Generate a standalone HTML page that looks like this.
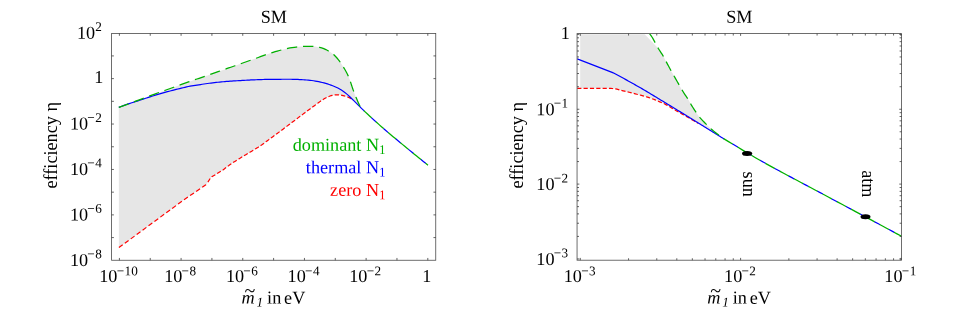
<!DOCTYPE html>
<html><head><meta charset="utf-8"><title>SM efficiency</title>
<style>html,body{margin:0;padding:0;background:#fff}body{width:954px;height:318px;overflow:hidden}</style></head>
<body>
<svg width="954" height="318" viewBox="0 0 954 318" style="display:block;will-change:transform;font-family:'Liberation Serif',serif;font-size:18.2px">
<rect width="954" height="318" fill="#fff"/>
<path d="M118.80,107.40 L120.91,106.63 L123.03,105.85 L125.14,105.08 L127.25,104.30 L129.37,103.52 L131.48,102.74 L133.59,101.96 L135.71,101.18 L137.82,100.39 L139.93,99.60 L142.04,98.81 L144.16,98.01 L146.27,97.21 L148.38,96.41 L150.50,95.61 L152.61,94.82 L154.72,94.05 L156.84,93.28 L158.95,92.53 L161.06,91.78 L163.18,91.03 L165.29,90.28 L167.40,89.53 L169.52,88.78 L171.63,88.01 L173.74,87.23 L175.85,86.44 L177.97,85.65 L180.08,84.87 L182.19,84.09 L184.31,83.33 L186.42,82.58 L188.53,81.85 L190.65,81.14 L192.76,80.43 L194.87,79.73 L196.99,79.02 L199.10,78.31 L201.21,77.58 L203.33,76.85 L205.44,76.12 L207.55,75.39 L209.66,74.65 L211.78,73.91 L213.89,73.17 L216.00,72.43 L218.12,71.69 L220.23,70.94 L222.34,70.20 L224.46,69.45 L226.57,68.71 L228.68,67.96 L230.80,67.22 L232.91,66.48 L235.02,65.73 L237.14,64.99 L239.25,64.25 L241.36,63.50 L243.47,62.76 L245.59,62.01 L247.70,61.26 L249.81,60.51 L251.93,59.76 L254.04,59.01 L256.15,58.25 L258.27,57.48 L260.38,56.70 L262.49,55.91 L264.61,55.14 L266.72,54.40 L268.83,53.70 L270.95,53.01 L273.06,52.34 L275.17,51.70 L277.28,51.09 L279.40,50.51 L281.51,49.96 L283.62,49.41 L285.74,48.88 L287.85,48.38 L289.96,47.95 L292.08,47.59 L294.19,47.30 L296.30,47.02 L298.42,46.76 L300.53,46.54 L302.64,46.38 L304.76,46.30 L306.87,46.30 L308.98,46.30 L311.09,46.30 L313.21,46.36 L315.32,46.57 L317.43,46.91 L319.55,47.32 L321.66,47.82 L323.77,48.59 L325.89,49.57 L328.00,50.70 L329.52,51.53 L330.96,52.47 L332.33,53.48 L333.63,54.58 L334.87,55.75 L336.06,56.98 L337.19,58.26 L338.27,59.59 L339.31,60.95 L340.32,62.34 L341.29,63.75 L342.23,65.17 L343.15,66.62 L344.04,68.07 L344.90,69.55 L345.73,71.04 L346.54,72.55 L347.31,74.07 L348.05,75.61 L348.73,77.18 L349.37,78.76 L349.96,80.36 L350.52,81.98 L351.06,83.60 L351.59,85.22 L352.12,86.85 L352.66,88.47 L353.22,90.09 L353.81,91.69 L354.41,93.29 L355.02,94.88 L355.66,96.47 L356.31,98.05 L356.98,99.62 L357.66,101.19 L358.35,102.75 L359.06,104.30 L359.77,105.85 L360.50,107.40 L353.00,99.90 L353.00,99.90 L351.91,99.11 L350.81,98.42 L349.72,97.87 L348.63,97.39 L347.53,96.97 L346.44,96.59 L345.35,96.25 L344.25,95.93 L343.16,95.61 L342.07,95.34 L340.97,95.12 L339.88,94.99 L338.79,94.91 L337.69,94.84 L336.60,94.80 L335.51,94.83 L334.41,94.96 L333.32,95.14 L332.23,95.36 L331.13,95.66 L330.04,96.02 L328.95,96.43 L327.85,96.87 L326.76,97.39 L325.67,97.97 L324.57,98.61 L323.48,99.28 L322.39,99.97 L321.29,100.67 L320.20,101.39 L319.11,102.16 L318.02,102.97 L316.92,103.79 L315.83,104.61 L314.74,105.43 L313.64,106.23 L312.55,107.04 L311.46,107.84 L310.36,108.66 L309.27,109.47 L308.18,110.28 L307.08,111.10 L305.99,111.92 L304.90,112.73 L303.80,113.55 L302.71,114.37 L301.62,115.19 L300.52,116.01 L299.43,116.83 L298.34,117.65 L297.24,118.47 L296.15,119.29 L295.06,120.12 L293.96,120.94 L292.87,121.77 L291.78,122.59 L290.68,123.41 L289.59,124.24 L288.50,125.06 L287.40,125.88 L286.31,126.70 L285.22,127.52 L284.12,128.34 L283.03,129.16 L281.94,129.97 L280.84,130.78 L279.75,131.59 L278.66,132.39 L277.56,133.20 L276.47,134.00 L275.38,134.80 L274.28,135.60 L273.19,136.41 L272.10,137.21 L271.00,138.01 L269.91,138.82 L268.82,139.62 L267.72,140.43 L266.63,141.25 L265.54,142.09 L264.44,142.93 L263.35,143.76 L262.26,144.56 L261.16,145.32 L260.07,146.05 L258.98,146.74 L257.88,147.41 L256.79,148.07 L255.70,148.73 L254.61,149.39 L253.51,150.05 L252.42,150.73 L251.33,151.39 L250.23,152.05 L249.14,152.71 L248.05,153.37 L246.95,154.02 L245.86,154.67 L244.77,155.33 L243.67,155.98 L242.58,156.64 L241.49,157.30 L240.39,157.97 L239.30,158.64 L238.21,159.31 L237.11,160.00 L236.02,160.69 L234.93,161.39 L233.83,162.11 L232.74,162.83 L231.65,163.57 L230.55,164.33 L229.46,165.10 L228.37,165.89 L227.27,166.69 L226.18,167.51 L225.09,168.33 L223.99,169.16 L222.90,170.00 L211.80,176.80 L210.20,178.40 L207.20,183.20 L205.80,184.80 L184.00,199.70 L178.08,204.06 L172.16,208.42 L166.25,212.78 L160.33,217.14 L154.41,221.49 L148.49,225.85 L142.57,230.20 L136.65,234.55 L130.74,238.90 L124.82,243.25 L118.90,247.60Z" fill="#e6e6e6"/>
<path d="M118.90,247.60 L122.69,244.82 M124.82,243.25 L128.61,240.46 M130.75,238.90 L134.53,236.11 M136.67,234.54 L140.45,231.76 M142.59,230.19 L146.37,227.40 M148.51,225.83 L152.30,223.05 M154.43,221.48 L158.21,218.69 M160.35,217.12 L164.13,214.33 M166.27,212.76 L170.05,209.97 M172.19,208.40 L175.97,205.62 M178.10,204.04 L181.89,201.26 M184.02,199.68 L187.90,197.03 M190.09,195.54 L193.97,192.89 M196.16,191.39 L200.04,188.74 M202.23,187.24 L205.80,184.80 L206.04,184.52 M207.89,182.10 L210.17,178.45 M211.68,176.92 L211.80,176.80 L215.32,174.64 M217.15,173.52 L220.82,171.27 M222.65,170.15 L222.90,170.00 L223.99,169.16 L225.09,168.33 L226.09,167.57 M227.82,166.29 L228.37,165.89 L229.46,165.10 L230.55,164.33 L231.32,163.80 M233.10,162.59 L233.83,162.11 L234.93,161.39 L236.02,160.69 L236.71,160.25 M238.53,159.11 L239.30,158.64 L240.39,157.97 L241.49,157.30 L242.20,156.87 M244.04,155.76 L244.77,155.33 L245.86,154.67 L246.95,154.02 L247.73,153.55 M249.58,152.45 L250.23,152.05 L251.33,151.39 L252.42,150.73 L253.25,150.21 M255.09,149.10 L255.70,148.73 L256.79,148.07 L257.88,147.41 L258.77,146.87 M260.58,145.71 L261.16,145.32 L262.26,144.56 L263.35,143.76 L264.07,143.21 M265.78,141.90 L266.63,141.25 L267.72,140.43 L268.82,139.62 L269.22,139.33 M270.95,138.05 L271.00,138.01 L272.10,137.21 L273.19,136.41 L274.28,135.60 L274.42,135.51 M276.15,134.23 L276.47,134.00 L277.56,133.20 L278.66,132.39 L279.62,131.69 M281.35,130.41 L281.94,129.97 L283.03,129.16 L284.12,128.34 L284.79,127.84 M286.51,126.55 L287.40,125.88 L288.50,125.06 L289.59,124.24 L289.95,123.97 M291.67,122.67 L291.78,122.59 L292.87,121.77 L293.96,120.94 L295.06,120.12 L295.10,120.08 M296.82,118.79 L297.24,118.47 L298.34,117.65 L299.43,116.83 L300.26,116.21 M301.98,114.92 L302.71,114.37 L303.80,113.55 L304.90,112.73 L305.42,112.34 M307.14,111.05 L308.18,110.28 L309.27,109.47 L310.36,108.66 L310.59,108.49 M312.32,107.21 L312.55,107.04 L313.64,106.23 L314.74,105.43 L315.78,104.65 M317.49,103.36 L318.02,102.97 L319.11,102.16 L320.20,101.39 L321.00,100.86 M322.81,99.71 L323.48,99.28 L324.57,98.61 L325.67,97.97 L326.51,97.52 M328.46,96.62 L328.95,96.43 L330.04,96.02 L331.13,95.66 L332.23,95.36 L332.55,95.30 M334.66,94.93 L335.51,94.83 L336.60,94.80 L337.69,94.84 L338.79,94.91 L338.95,94.92 M341.09,95.14 L342.07,95.34 L343.16,95.61 L344.25,95.93 L345.25,96.23 M347.30,96.89 L347.53,96.97 L348.63,97.39 L349.72,97.87 L350.81,98.42 L351.20,98.67 M352.97,99.88 L353.00,99.90" fill="none" stroke="#ff0000" stroke-width="1.18"/>
<path d="M118.80,107.40 L120.54,106.72 L122.28,106.05 L124.02,105.40 L125.76,104.77 L127.49,104.16 L129.23,103.58 L130.97,103.01 L132.71,102.46 L134.45,101.91 L136.19,101.37 L137.93,100.82 L139.67,100.25 L141.41,99.68 L143.14,99.11 L144.88,98.53 L146.62,97.96 L148.36,97.38 L150.10,96.82 L151.84,96.26 L153.58,95.72 L155.32,95.19 L157.05,94.67 L158.79,94.15 L160.53,93.64 L162.27,93.14 L164.01,92.64 L165.75,92.16 L167.49,91.68 L169.23,91.21 L170.97,90.75 L172.70,90.30 L174.44,89.86 L176.18,89.43 L177.92,89.00 L179.66,88.58 L181.40,88.16 L183.14,87.73 L184.88,87.31 L186.62,86.90 L188.35,86.52 L190.09,86.18 L191.83,85.89 L193.57,85.62 L195.31,85.36 L197.05,85.09 L198.79,84.82 L200.53,84.55 L202.26,84.28 L204.00,84.02 L205.74,83.76 L207.48,83.51 L209.22,83.27 L210.96,83.05 L212.70,82.85 L214.44,82.64 L216.18,82.45 L217.91,82.26 L219.65,82.08 L221.39,81.91 L223.13,81.75 L224.87,81.59 L226.61,81.45 L228.35,81.31 L230.09,81.18 L231.83,81.06 L233.56,80.95 L235.30,80.84 L237.04,80.73 L238.78,80.63 L240.52,80.53 L242.26,80.44 L244.00,80.34 L245.74,80.24 L247.47,80.15 L249.21,80.06 L250.95,79.97 L252.69,79.89 L254.43,79.82 L256.17,79.76 L257.91,79.69 L259.65,79.62 L261.39,79.56 L263.12,79.50 L264.86,79.45 L266.60,79.40 L268.34,79.37 L270.08,79.35 L271.82,79.33 L273.56,79.32 L275.30,79.31 L277.04,79.30 L278.77,79.28 L280.51,79.28 L282.25,79.27 L283.99,79.26 L285.73,79.26 L287.47,79.25 L289.21,79.25 L290.95,79.25 L292.68,79.28 L294.42,79.32 L296.16,79.38 L297.90,79.46 L299.64,79.55 L301.38,79.65 L303.12,79.77 L304.86,79.89 L306.60,80.02 L308.33,80.16 L310.07,80.31 L311.81,80.51 L313.55,80.76 L315.29,81.05 L317.03,81.36 L318.77,81.69 L320.51,82.06 L322.25,82.47 L323.98,82.92 L325.72,83.41 L327.46,83.93 L329.20,84.48 L330.94,85.07 L332.68,85.72 L334.42,86.43 L336.16,87.20 L337.89,88.05 L339.63,89.02 L341.37,90.11 L343.11,91.29 L344.85,92.56 L346.59,93.89 L348.33,95.37 L350.07,97.01 L351.81,98.73 L353.54,100.43 L355.28,102.13 L357.02,103.86 L358.76,105.62 L360.50,107.40 M360.29,106.95 L360.50,107.40 L362.83,109.64 L364.18,110.92 M371.27,117.55 L372.14,118.35 L374.47,120.47 L376.08,121.92 M383.34,128.35 L383.78,128.73 L386.10,130.74 L388.27,132.59 M395.69,138.83 L397.74,140.53 L400.07,142.46 L400.70,142.98 M408.19,149.14 L409.38,150.12 L411.71,152.03 L413.22,153.26 M420.75,159.37 L421.02,159.59 L423.34,161.47 L425.67,163.34 L425.81,163.45" fill="none" stroke="#0000ff" stroke-width="1.2"/>
<path d="M118.80,107.40 L120.91,106.63 L123.03,105.85 L125.14,105.08 L127.25,104.30 L128.56,103.82 M134.00,101.81 L135.71,101.18 L137.82,100.39 L139.93,99.60 L142.04,98.81 L143.74,98.16 M149.17,96.11 L150.50,95.61 L152.61,94.82 L154.72,94.05 L156.84,93.28 L158.93,92.53 M164.40,90.60 L165.29,90.28 L167.40,89.53 L169.52,88.78 L171.63,88.01 L173.74,87.23 L174.18,87.06 M179.62,85.04 L180.08,84.87 L182.19,84.09 L184.31,83.33 L186.42,82.58 L188.53,81.85 L189.42,81.55 M194.92,79.71 L196.99,79.02 L199.10,78.31 L201.21,77.58 L203.33,76.85 L204.76,76.36 M210.24,74.45 L211.78,73.91 L213.89,73.17 L216.00,72.43 L218.12,71.69 L220.05,71.01 M225.52,69.08 L226.57,68.71 L228.68,67.96 L230.80,67.22 L232.91,66.48 L235.02,65.73 L235.33,65.63 M240.80,63.70 L241.36,63.50 L243.47,62.76 L245.59,62.01 L247.70,61.26 L249.81,60.51 L250.61,60.23 M256.07,58.28 L256.15,58.25 L258.27,57.48 L260.38,56.70 L262.49,55.91 L264.61,55.14 L265.83,54.71 M271.34,52.89 L273.06,52.34 L275.17,51.70 L277.28,51.09 L279.40,50.51 L281.33,50.01 M286.96,48.59 L287.85,48.38 L289.96,47.95 L292.08,47.59 L294.19,47.30 L296.30,47.02 L297.21,46.90 M302.99,46.37 L304.76,46.30 L306.87,46.30 L308.98,46.30 L311.09,46.30 L313.21,46.36 L313.38,46.37 M319.12,47.24 L319.55,47.32 L321.66,47.82 L323.77,48.59 L325.89,49.57 L328.00,50.70 L328.71,51.09 M333.45,54.42 L333.63,54.58 L334.87,55.75 L336.06,56.98 L337.19,58.26 L338.27,59.59 L339.31,60.95 L340.25,62.25 M343.44,67.10 L344.04,68.07 L344.90,69.55 L345.73,71.04 L346.54,72.55 L347.31,74.07 L348.05,75.61 L348.33,76.27 M350.41,81.68 L350.52,81.98 L351.06,83.60 L351.59,85.22 L352.12,86.85 L352.66,88.47 L353.22,90.09 L353.75,91.53 M355.85,96.93 L356.31,98.05 L356.98,99.62 L357.66,101.19 L358.35,102.75 L359.06,104.30 L359.77,105.85 L360.05,106.45 M363.93,110.68 L365.16,111.85 L367.48,114.04 L369.81,116.21 L371.52,117.79 M375.82,121.69 L376.79,122.57 L379.12,124.64 L381.45,126.69 L383.61,128.58 M388.00,132.36 L388.43,132.73 L390.76,134.70 L393.09,136.65 L395.41,138.60 L395.96,139.05 M400.43,142.75 L402.40,144.38 L404.72,146.29 L407.05,148.21 L408.46,149.36 M412.95,153.04 L414.03,153.93 L416.36,155.82 L418.69,157.71 L421.02,159.59 L421.02,159.59 M425.54,163.23 L425.67,163.34 L428.00,165.20" fill="none" stroke="#00b000" stroke-width="1.25"/>
<rect x="111.60" y="33.50" width="324.15" height="226.75" fill="none" stroke="#4a4a4a" stroke-width="0.8"/>
<path d="M119.40,33.50v2.30M119.40,260.25v-2.30M150.24,33.50v2.30M150.24,260.25v-2.30M181.08,33.50v2.30M181.08,260.25v-2.30M211.92,33.50v2.30M211.92,260.25v-2.30M242.76,33.50v2.30M242.76,260.25v-2.30M273.60,33.50v2.30M273.60,260.25v-2.30M304.44,33.50v2.30M304.44,260.25v-2.30M335.28,33.50v2.30M335.28,260.25v-2.30M366.12,33.50v2.30M366.12,260.25v-2.30M396.96,33.50v2.30M396.96,260.25v-2.30M427.80,33.50v2.30M427.80,260.25v-2.30M111.60,237.59h2.30M435.75,237.59h-2.30M111.60,214.88h2.30M435.75,214.88h-2.30M111.60,192.17h2.30M435.75,192.17h-2.30M111.60,169.46h2.30M435.75,169.46h-2.30M111.60,146.75h2.30M435.75,146.75h-2.30M111.60,124.04h2.30M435.75,124.04h-2.30M111.60,101.33h2.30M435.75,101.33h-2.30M111.60,78.62h2.30M435.75,78.62h-2.30M111.60,55.91h2.30M435.75,55.91h-2.30" stroke="#333" stroke-width="0.75" fill="none"/>
<text transform="translate(101.80,38.80) rotate(0.04)" text-anchor="end">10<tspan dy="-7.7" font-size="13.2">2</tspan></text>
<text transform="translate(103.30,83.12) rotate(0.04)" text-anchor="end">1</text>
<text transform="translate(101.80,129.64) rotate(0.04)" text-anchor="end">10<tspan dx="-0.8" dy="-7.7" font-size="13.2">−<tspan dx="0.5">2</tspan></tspan></text>
<text transform="translate(101.80,175.06) rotate(0.04)" text-anchor="end">10<tspan dx="-0.8" dy="-7.7" font-size="13.2">−<tspan dx="0.5">4</tspan></tspan></text>
<text transform="translate(101.80,220.48) rotate(0.04)" text-anchor="end">10<tspan dx="-0.8" dy="-7.7" font-size="13.2">−<tspan dx="0.5">6</tspan></tspan></text>
<text transform="translate(101.80,265.90) rotate(0.04)" text-anchor="end">10<tspan dx="-0.8" dy="-7.7" font-size="13.2">−<tspan dx="0.5">8</tspan></tspan></text>
<text transform="translate(118.50,282.00) rotate(0.04)" text-anchor="middle">10<tspan dx="-0.8" dy="-6.8" font-size="13.2">−<tspan dx="0.5">10</tspan></tspan></text>
<text transform="translate(180.18,282.00) rotate(0.04)" text-anchor="middle">10<tspan dx="-0.8" dy="-6.8" font-size="13.2">−<tspan dx="0.5">8</tspan></tspan></text>
<text transform="translate(241.86,282.00) rotate(0.04)" text-anchor="middle">10<tspan dx="-0.8" dy="-6.8" font-size="13.2">−<tspan dx="0.5">6</tspan></tspan></text>
<text transform="translate(303.54,282.00) rotate(0.04)" text-anchor="middle">10<tspan dx="-0.8" dy="-6.8" font-size="13.2">−<tspan dx="0.5">4</tspan></tspan></text>
<text transform="translate(365.22,282.00) rotate(0.04)" text-anchor="middle">10<tspan dx="-0.8" dy="-6.8" font-size="13.2">−<tspan dx="0.5">2</tspan></tspan></text>
<text transform="translate(426.90,282.00) rotate(0.04)" text-anchor="middle">1</text>
<text transform="translate(273.85,22.80) rotate(0.04)" text-anchor="middle">SM</text>
<text transform="translate(241.60,303.60) rotate(0.04)"><tspan font-style="italic">m</tspan><tspan dx="1.7" dy="2.9" font-size="13.2" font-style="italic">1</tspan><tspan x="25.5" dy="-2.9">in</tspan><tspan x="42.5">eV</tspan></text><text transform="translate(244.50,297.30) rotate(0.04)" font-size="20">~</text>
<text transform="translate(57.30,145.30) rotate(-90)" text-anchor="middle">efficiency η</text>
<text transform="translate(385.70,150.70) rotate(0.04)" text-anchor="end" fill="#00b000">dominant N<tspan dy="3.3" font-size="13.2">1</tspan></text>
<text transform="translate(385.70,173.30) rotate(0.04)" text-anchor="end" fill="#0000ff">thermal N<tspan dy="3.3" font-size="13.2">1</tspan></text>
<text transform="translate(385.70,195.90) rotate(0.04)" text-anchor="end" fill="#ff0000">zero N<tspan dy="3.3" font-size="13.2">1</tspan></text>
<clipPath id="cr"><rect x="577.05" y="33.60" width="324.50" height="226.60"/></clipPath><g clip-path="url(#cr)">
<path d="M580.20,34.20 L644.60,34.20 L657.40,47.50 L658.43,48.60 L659.31,50.01 L660.22,51.40 L661.14,52.78 L662.05,54.17 L662.93,55.58 L663.74,57.02 L664.52,58.48 L665.28,59.96 L666.04,61.43 L666.82,62.90 L667.60,64.37 L668.38,65.83 L669.18,67.28 L669.98,68.74 L670.78,70.19 L671.59,71.64 L672.40,73.08 L673.22,74.53 L674.04,75.97 L674.85,77.41 L675.67,78.85 L676.49,80.30 L677.31,81.74 L678.13,83.18 L678.96,84.62 L679.78,86.06 L680.61,87.49 L681.45,88.93 L682.29,90.36 L683.14,91.78 L684.01,93.19 L684.92,94.58 L685.86,95.95 L686.83,97.30 L687.75,98.68 L688.60,100.10 L689.40,101.55 L690.20,103.00 L691.03,104.45 L691.88,105.87 L692.75,107.28 L693.64,108.68 L694.55,110.07 L695.47,111.45 L696.40,112.83 L697.35,114.19 L698.33,115.53 L699.35,116.83 L700.41,118.10 L701.51,119.34 L702.64,120.56 L703.79,121.76 L704.95,122.94 L706.12,124.12 L707.29,125.30 L708.47,126.47 L709.67,127.62 L710.89,128.73 L712.15,129.81 L713.43,130.87 L714.73,131.90 L716.05,132.91 L717.37,133.91 L718.71,134.90 L720.04,135.89 L721.37,136.88 L722.69,137.88 L724.00,138.90 L698.00,123.30 L698.00,123.30 L696.47,122.38 L694.94,121.46 L693.41,120.54 L691.88,119.64 L690.35,118.74 L688.83,117.85 L687.30,116.97 L685.77,116.10 L684.24,115.24 L682.71,114.37 L681.18,113.51 L679.65,112.64 L678.12,111.78 L676.59,110.91 L675.06,110.03 L673.53,109.13 L672.01,108.20 L670.48,107.27 L668.95,106.35 L667.42,105.46 L665.89,104.61 L664.36,103.82 L662.83,103.11 L661.30,102.47 L659.77,101.85 L658.24,101.20 L656.71,100.55 L655.18,99.91 L653.66,99.28 L652.13,98.69 L650.60,98.13 L649.07,97.63 L647.54,97.15 L646.01,96.70 L644.48,96.26 L642.95,95.83 L641.42,95.42 L639.89,95.00 L638.36,94.60 L636.84,94.21 L635.31,93.82 L633.78,93.44 L632.25,93.06 L630.72,92.68 L629.19,92.30 L627.66,91.92 L626.13,91.55 L624.60,91.18 L623.07,90.81 L621.54,90.44 L620.02,90.01 L618.49,89.56 L616.96,89.15 L615.43,88.81 L613.90,88.61 L612.37,88.52 L610.84,88.45 L609.31,88.38 L607.78,88.34 L606.25,88.31 L604.72,88.30 L603.19,88.30 L601.67,88.30 L600.14,88.30 L598.61,88.30 L597.08,88.30 L595.55,88.30 L594.02,88.30 L592.49,88.30 L590.96,88.30 L589.43,88.30 L587.90,88.30 L586.37,88.30 L584.85,88.30 L583.32,88.30 L581.79,88.30 L580.26,88.30 L580.20,88.30Z" fill="#e6e6e6"/>
<path d="M577.20,88.30 L578.73,88.30 L580.26,88.30 L581.40,88.30 M583.55,88.30 L584.85,88.30 L586.37,88.30 L587.75,88.30 M589.90,88.30 L590.96,88.30 L592.49,88.30 L594.02,88.30 L594.10,88.30 M596.25,88.30 L597.08,88.30 L598.61,88.30 L600.14,88.30 L600.45,88.30 M602.60,88.30 L603.19,88.30 L604.72,88.30 L606.25,88.31 L606.80,88.32 M608.95,88.37 L609.31,88.38 L610.84,88.45 L612.37,88.52 L613.14,88.57 M615.28,88.79 L615.43,88.81 L616.96,89.15 L618.49,89.56 L619.35,89.81 M621.42,90.40 L621.54,90.44 L623.07,90.81 L624.60,91.18 L625.50,91.40 M627.59,91.91 L627.66,91.92 L629.19,92.30 L630.72,92.68 L631.67,92.92 M633.75,93.44 L633.78,93.44 L635.31,93.82 L636.84,94.21 L637.83,94.46 M639.91,95.00 L641.42,95.42 L642.95,95.83 L643.96,96.11 M646.03,96.70 L647.54,97.15 L649.07,97.63 L650.04,97.95 M652.06,98.66 L652.13,98.69 L653.66,99.28 L655.18,99.91 L655.96,100.23 M657.94,101.07 L658.24,101.20 L659.77,101.85 L661.30,102.47 L661.82,102.68 M663.78,103.55 L664.36,103.82 L665.89,104.61 L667.42,105.46 L667.50,105.51 M669.35,106.60 L670.48,107.27 L672.01,108.20 L672.95,108.77 M674.79,109.87 L675.06,110.03 L676.59,110.91 L678.12,111.78 L678.44,111.96 M680.31,113.02 L681.18,113.51 L682.71,114.37 L683.97,115.08 M685.84,116.14 L687.30,116.97 L688.83,117.85 L689.48,118.23 M691.34,119.32 L691.88,119.64 L693.41,120.54 L694.94,121.46 L694.95,121.46 M696.79,122.57 L698.00,123.30" fill="none" stroke="#ff0000" stroke-width="1.18"/>
<path d="M577.20,58.90 L612.70,72.60 L614.11,73.33 L615.52,74.06 L616.93,74.80 L618.34,75.55 L619.74,76.30 L621.15,77.06 L622.56,77.82 L623.97,78.58 L625.38,79.35 L626.79,80.13 L628.20,80.91 L629.61,81.69 L631.02,82.48 L632.42,83.27 L633.83,84.06 L635.24,84.86 L636.65,85.66 L638.06,86.46 L639.47,87.27 L640.88,88.08 L642.29,88.89 L643.69,89.71 L645.10,90.53 L646.51,91.36 L647.92,92.20 L649.33,93.05 L650.74,93.91 L652.15,94.77 L653.56,95.62 L654.97,96.48 L656.37,97.33 L657.78,98.18 L659.19,99.04 L660.60,99.89 L662.01,100.74 L663.42,101.60 L664.83,102.45 L666.24,103.30 L667.65,104.16 L669.05,105.01 L670.46,105.87 L671.87,106.73 L673.28,107.58 L674.69,108.44 L676.10,109.30 L677.51,110.16 L678.92,111.02 L680.33,111.88 L681.73,112.74 L683.14,113.60 L684.55,114.47 L685.96,115.33 L687.37,116.20 L688.78,117.06 L690.19,117.93 L691.60,118.80 L693.01,119.67 L694.41,120.54 L695.82,121.41 L697.23,122.28 L698.64,123.16 L700.05,124.03 L701.46,124.90 L702.87,125.78 L704.28,126.65 L705.68,127.52 L707.09,128.40 L708.50,129.27 L709.91,130.15 L711.32,131.02 L712.73,131.89 L714.14,132.77 L715.55,133.64 L716.96,134.52 L718.36,135.39 L719.77,136.27 L721.18,137.15 L722.59,138.02 L724.00,138.90 M723.61,138.59 L723.89,138.82 M732.22,143.80 L733.11,144.33 L737.66,147.08 L737.78,147.15 M746.06,152.21 L746.77,152.64 L751.32,155.31 L751.66,155.51 M760.08,160.32 L760.43,160.52 L764.98,163.08 L765.75,163.50 M774.25,168.19 L778.65,170.58 L779.96,171.29 M788.50,175.88 L792.31,177.90 L794.24,178.93 M802.82,183.47 L805.97,185.14 L808.56,186.51 M817.14,191.04 L819.63,192.36 L822.88,194.09 M831.43,198.67 L833.29,199.67 L837.15,201.75 M845.71,206.32 L846.95,206.99 L851.44,209.38 M860.00,213.95 L860.62,214.28 L865.17,216.72 L865.73,217.02 M874.27,221.61 L874.28,221.61 L878.83,224.05 L880.00,224.68 M888.55,229.27 L892.49,231.40 L894.27,232.35" fill="none" stroke="#0000ff" stroke-width="1.2"/>
<path d="M649.63,33.77 L650.06,34.30 L651.04,35.64 L651.96,37.03 L652.83,38.44 L653.65,39.88 L654.45,41.33 L655.12,42.59 M657.90,47.68 L658.43,48.60 L659.31,50.01 L660.22,51.40 L661.14,52.78 L662.05,54.17 L662.93,55.58 L663.44,56.48 M666.14,61.61 L666.82,62.90 L667.60,64.37 L668.38,65.83 L669.18,67.28 L669.98,68.74 L670.78,70.19 L671.10,70.75 M673.94,75.80 L674.04,75.97 L674.85,77.41 L675.67,78.85 L676.49,80.30 L677.31,81.74 L678.13,83.18 L678.96,84.62 L679.09,84.84 M682.00,89.86 L682.29,90.36 L683.14,91.78 L684.01,93.19 L684.92,94.58 L685.86,95.95 L686.83,97.30 L687.68,98.57 M690.55,103.61 L691.03,104.45 L691.88,105.87 L692.75,107.28 L693.64,108.68 L694.55,110.07 L695.47,111.45 L696.10,112.39 M699.54,117.06 L700.41,118.10 L701.51,119.34 L702.64,120.56 L703.79,121.76 L704.95,122.94 L706.12,124.12 L706.65,124.65 M710.83,128.67 L710.89,128.73 L712.15,129.81 L713.43,130.87 L714.73,131.90 L716.05,132.91 L717.37,133.91 L718.71,134.90 L718.99,135.11 M723.62,138.60 L724.00,138.90 L728.55,141.60 L732.52,143.98 M737.48,146.97 L737.66,147.08 L742.22,149.85 L746.36,152.39 M751.36,155.33 L755.88,157.93 L760.39,160.50 M765.45,163.33 L769.54,165.60 L774.09,168.10 L774.55,168.35 M779.65,171.12 L783.20,173.04 L787.75,175.48 L788.81,176.04 M793.93,178.77 L796.86,180.32 L801.42,182.73 L803.13,183.63 M808.25,186.34 L810.52,187.54 L815.08,189.95 L817.45,191.21 M822.57,193.93 L824.18,194.79 L828.74,197.22 L831.74,198.84 M836.85,201.58 L837.85,202.12 L842.40,204.55 L846.02,206.49 M851.13,209.22 L851.51,209.42 L856.06,211.85 L860.31,214.12 M865.42,216.86 L869.72,219.17 L874.28,221.61 L874.58,221.77 M879.69,224.52 L883.38,226.50 L887.94,228.95 L888.85,229.44 M893.96,232.19 L897.05,233.85 L901.60,236.30" fill="none" stroke="#00b000" stroke-width="1.25"/>
</g>
<rect x="577.05" y="33.60" width="324.50" height="226.60" fill="none" stroke="#4a4a4a" stroke-width="0.8"/>
<path d="M580.30,33.60v2.30M580.30,260.20v-2.30M740.60,33.60v2.30M740.60,260.20v-2.30M900.90,33.60v2.30M900.90,260.20v-2.30M577.05,34.40h2.30M901.55,34.40h-2.30M577.05,109.25h2.30M901.55,109.25h-2.30M577.05,184.10h2.30M901.55,184.10h-2.30M577.05,258.95h2.30M901.55,258.95h-2.30M628.56,33.60v1.95M628.56,260.20v-1.95M656.78,33.60v1.95M656.78,260.20v-1.95M676.81,33.60v1.95M676.81,260.20v-1.95M692.34,33.60v1.95M692.34,260.20v-1.95M705.04,33.60v1.95M705.04,260.20v-1.95M715.77,33.60v1.95M715.77,260.20v-1.95M725.07,33.60v1.95M725.07,260.20v-1.95M733.27,33.60v1.95M733.27,260.20v-1.95M788.86,33.60v1.95M788.86,260.20v-1.95M817.08,33.60v1.95M817.08,260.20v-1.95M837.11,33.60v1.95M837.11,260.20v-1.95M852.64,33.60v1.95M852.64,260.20v-1.95M865.34,33.60v1.95M865.34,260.20v-1.95M876.07,33.60v1.95M876.07,260.20v-1.95M885.37,33.60v1.95M885.37,260.20v-1.95M893.57,33.60v1.95M893.57,260.20v-1.95M577.05,236.42h1.95M901.55,236.42h-1.95M577.05,223.24h1.95M901.55,223.24h-1.95M577.05,213.89h1.95M901.55,213.89h-1.95M577.05,206.63h1.95M901.55,206.63h-1.95M577.05,200.71h1.95M901.55,200.71h-1.95M577.05,195.69h1.95M901.55,195.69h-1.95M577.05,191.35h1.95M901.55,191.35h-1.95M577.05,187.52h1.95M901.55,187.52h-1.95M577.05,161.57h1.95M901.55,161.57h-1.95M577.05,148.39h1.95M901.55,148.39h-1.95M577.05,139.04h1.95M901.55,139.04h-1.95M577.05,131.78h1.95M901.55,131.78h-1.95M577.05,125.86h1.95M901.55,125.86h-1.95M577.05,120.84h1.95M901.55,120.84h-1.95M577.05,116.50h1.95M901.55,116.50h-1.95M577.05,112.67h1.95M901.55,112.67h-1.95M577.05,86.72h1.95M901.55,86.72h-1.95M577.05,73.54h1.95M901.55,73.54h-1.95M577.05,64.19h1.95M901.55,64.19h-1.95M577.05,56.93h1.95M901.55,56.93h-1.95M577.05,51.01h1.95M901.55,51.01h-1.95M577.05,45.99h1.95M901.55,45.99h-1.95M577.05,41.65h1.95M901.55,41.65h-1.95M577.05,37.82h1.95M901.55,37.82h-1.95" stroke="#333" stroke-width="0.75" fill="none"/>
<text transform="translate(569.80,38.90) rotate(0.04)" text-anchor="end">1</text>
<text transform="translate(568.20,115.25) rotate(0.04)" text-anchor="end">10<tspan dx="-0.8" dy="-7.7" font-size="13.2">−<tspan dx="0.5">1</tspan></tspan></text>
<text transform="translate(568.20,190.10) rotate(0.04)" text-anchor="end">10<tspan dx="-0.8" dy="-7.7" font-size="13.2">−<tspan dx="0.5">2</tspan></tspan></text>
<text transform="translate(568.20,264.95) rotate(0.04)" text-anchor="end">10<tspan dx="-0.8" dy="-7.7" font-size="13.2">−<tspan dx="0.5">3</tspan></tspan></text>
<text transform="translate(579.70,282.00) rotate(0.04)" text-anchor="middle">10<tspan dx="-0.8" dy="-6.8" font-size="13.2">−<tspan dx="0.5">3</tspan></tspan></text>
<text transform="translate(740.00,282.00) rotate(0.04)" text-anchor="middle">10<tspan dx="-0.8" dy="-6.8" font-size="13.2">−<tspan dx="0.5">2</tspan></tspan></text>
<text transform="translate(900.30,282.00) rotate(0.04)" text-anchor="middle">10<tspan dx="-0.8" dy="-6.8" font-size="13.2">−<tspan dx="0.5">1</tspan></tspan></text>
<text transform="translate(739.40,22.80) rotate(0.04)" text-anchor="middle">SM</text>
<text transform="translate(707.30,303.60) rotate(0.04)"><tspan font-style="italic">m</tspan><tspan dx="1.7" dy="2.9" font-size="13.2" font-style="italic">1</tspan><tspan x="25.5" dy="-2.9">in</tspan><tspan x="42.5">eV</tspan></text><text transform="translate(710.20,297.30) rotate(0.04)" font-size="20">~</text>
<text transform="translate(522.90,145.30) rotate(-90)" text-anchor="middle">efficiency η</text>
<ellipse cx="747.1" cy="153.5" rx="5.1" ry="2.5" fill="#000"/>
<ellipse cx="865.5" cy="216.8" rx="5.0" ry="2.5" fill="#000"/>
<text transform="translate(743.30,171.60) rotate(90)">sun</text>
<text transform="translate(861.60,170.20) rotate(90)">atm</text>
</svg>
</body></html>
